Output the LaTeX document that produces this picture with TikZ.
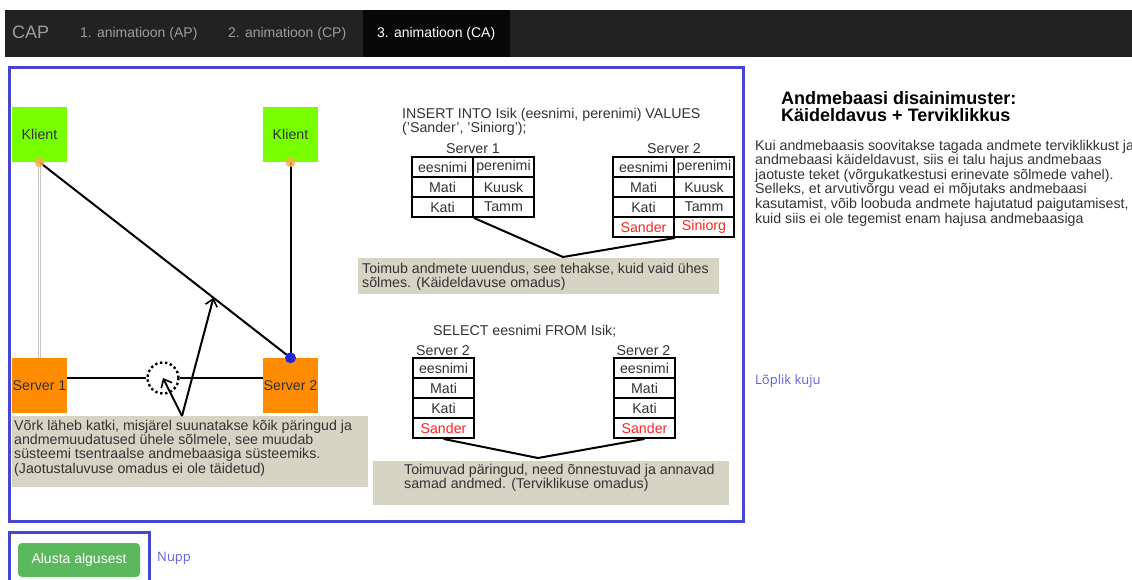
\documentclass[tikz,border=0pt]{standalone}
\usepackage{fontspec}
\usepackage{graphicx}
\setmainfont{Liberation Sans}
\newfontfamily\linkfont{Open Sans}
\usetikzlibrary{arrows.meta,calc}

\definecolor{navbg}{HTML}{222222}
\definecolor{navact}{HTML}{080808}
\definecolor{navtxt}{HTML}{9D9D9D}
\definecolor{frameblue}{HTML}{4646D2}
\definecolor{clientgreen}{HTML}{77FF00}
\definecolor{serverorange}{HTML}{FF8C00}
\definecolor{dotorange}{HTML}{F7B24A}
\definecolor{dotblue}{HTML}{2525D8}
\definecolor{notebg}{HTML}{D6D5C4}
\definecolor{ink}{HTML}{333333}
\definecolor{rowred}{HTML}{FF2424}
\definecolor{linkblue}{HTML}{5F5FE6}
\definecolor{btngreen}{HTML}{5CB85C}

\tikzset{
  f14/.style={font=\fontsize{14.2}{14.4}\selectfont},
  machine/.style={f14, text=ink, minimum width=55, minimum height=55, inner sep=0},
  client/.style={machine, fill=clientgreen},
  server/.style={machine, fill=serverorange},
  wire/.style={line width=2, black},
  arr/.style={wire, -{Straight Barb[length=7,width=12,line width=1.6]}},
  cell/.style={f14, draw=black, line width=1.9, minimum height=20, inner sep=0, text=ink},
  newrow/.style={text=rowred},
  note/.style={fill=notebg, inner sep=0, anchor=north west},
  % multi-line texts are placed by the baseline of their last line
  txt/.style={f14, inner sep=0, anchor=base west, text=ink, align=left},
  ttl/.style={f14, inner sep=0, anchor=base, text=ink},
  navitem/.style={font=\fontsize{14}{16}\selectfont, inner sep=0, anchor=base west, text=navtxt},
  lnk/.style={font=\linkfont\fontsize{13}{15}\selectfont, inner sep=0, anchor=base west, text=linkblue},
}

\begin{document}
\begin{tikzpicture}[x=1pt,y=-1pt]
\useasboundingbox (0,0) rectangle (1132,580);
\fill[white] (0,0) rectangle (1132,580);

% navigation bar
\fill[navbg] (5,10) rectangle (1132,57);
\fill[navact] (363,10) rectangle (510,57);
\node[navitem, font=\fontsize{18}{20}\selectfont] (brand) at (12,39) {CAP};
\node[navitem] (tab1) at (80,38) {1. animatioon (AP)};
\node[navitem] (tab2) at (228,38) {2. animatioon (CP)};
\node[navitem, text=white] (tab3) at (377,38) {3. animatioon (CA)};

% animation frame
\draw[frameblue, line width=3] (9.5,68) rectangle (743.5,521.5);

% clients and servers
\node[client] (klient1) at (39.5,134.5) {Klient};
\node[client] (klient2) at (290.5,134.5) {Klient};
\node[server] (server1) at (39.5,385.5) {Server 1};
\node[server] (server2) at (290.5,385.5) {Server 2};

% broken network link
\node[circle, draw, line width=2.4, dash pattern=on 2.4 off 2.6, minimum size=31, inner sep=0] (gap) at (163,378) {};
\draw[wire] (server1.east |- gap.center) -- (gap.west);
\draw[wire] (gap.east) -- (server2.west |- gap.center);

% client connections
\draw[gray!45, line width=0.8, double=white, double distance=1.6] (klient1.south) -- (server1.north);
\draw[wire] (klient2.south) -- (server2.north);
\draw[wire] (klient1.south) -- (server2.north);
\fill[dotorange, opacity=0.85] (klient1.south) circle (5);
\fill[dotorange, opacity=0.85] (klient2.south) circle (5);
\fill[dotblue] (server2.north) circle (5.5);

% explanation of the partition
\node[note, minimum width=356, minimum height=71] (netnote) at (12,416) {};
\node[txt] (netnotetxt) at (14,473.2) {Võrk läheb katki, misjärel suunatakse kõik päringud ja\\andmemuudatused ühele sõlmele, see muudab\\süsteemi tsentraalse andmebaasiga süsteemiks.\\(Jaotustaluvuse omadus ei ole täidetud)};
\coordinate (netapex) at ($(netnote.north west)+(170,0)$);
\draw[arr] (netapex) -- (gap.center);
\draw[arr] (netapex) -- ($(klient1.south)!0.693!(server2.north)$);

% insert statement
\node[txt] (insert) at (402,132.6) {INSERT INTO Isik (eesnimi, perenimi) VALUES\\('Sander', 'Siniorg');};
\node[ttl] (t1ttl) at (473,154) {Server 1};
\node[ttl] (t2ttl) at (674,154) {Server 2};

% table on server 1
\node[cell, minimum width=61] (t1-1-1) at (442.5,167) {eesnimi};
\node[cell, minimum width=61] (t1-1-2) at (503.5,167) {perenimi};
\node[cell, minimum width=61] (t1-2-1) at (442.5,187) {Mati};
\node[cell, minimum width=61] (t1-2-2) at (503.5,187) {Kuusk};
\node[cell, minimum width=61] (t1-3-1) at (442.5,207) {Kati};
\node[cell, minimum width=61] (t1-3-2) at (503.5,207) {Tamm};

% table on server 2
\node[cell, minimum width=61] (t2-1-1) at (643.5,167) {eesnimi};
\node[cell, minimum width=60] (t2-1-2) at (704,167) {perenimi};
\node[cell, minimum width=61] (t2-2-1) at (643.5,187) {Mati};
\node[cell, minimum width=60] (t2-2-2) at (704,187) {Kuusk};
\node[cell, minimum width=61] (t2-3-1) at (643.5,207) {Kati};
\node[cell, minimum width=60] (t2-3-2) at (704,207) {Tamm};
\node[cell, newrow, minimum width=61] (t2-4-1) at (643.5,227) {Sander};
\node[cell, newrow, minimum width=60] (t2-4-2) at (704,227) {Siniorg};

\node[note, minimum width=361, minimum height=36] (updnote) at (358,258) {};
\node[txt] (updnotetxt) at (362,287.4) {Toimub andmete uuendus, see tehakse, kuid vaid ühes\\sõlmes. (Käideldavuse omadus)};
\coordinate (updapex) at ($(updnote.north west)+(205,-1)$);
\draw[wire] (t1-3-1.south east) -- (updapex) -- (t2-4-1.south east);

% select statement
\node[txt] (select) at (433,335) {SELECT eesnimi FROM Isik;};
\node[ttl] (tattl) at (443,355) {Server 2};
\node[ttl] (tbttl) at (643.5,355) {Server 2};

\node[cell, minimum width=61] (ta-1) at (443.5,368) {eesnimi};
\node[cell, minimum width=61] (ta-2) at (443.5,388) {Mati};
\node[cell, minimum width=61] (ta-3) at (443.5,408) {Kati};
\node[cell, newrow, minimum width=61] (ta-4) at (443.5,428) {Sander};
\node[cell, minimum width=61] (tb-1) at (644.5,368) {eesnimi};
\node[cell, minimum width=61] (tb-2) at (644.5,388) {Mati};
\node[cell, minimum width=61] (tb-3) at (644.5,408) {Kati};
\node[cell, newrow, minimum width=61] (tb-4) at (644.5,428) {Sander};

\node[note, minimum width=356, minimum height=44] (selnote) at (373,461) {};
\node[txt] (selnotetxt) at (404,488.4) {Toimuvad päringud, need õnnestuvad ja annavad\\samad andmed. (Terviklikuse omadus)};
\coordinate (selapex) at ($(selnote.north west)+(165,-3)$);
\draw[wire] (ta-4.south) -- (selapex) -- (tb-4.south);

% description column
\node[txt, font=\bfseries\fontsize{18}{17}\selectfont, text=black] (heading) at (781,122) {Andmebaasi disainimuster:\\Käideldavus + Terviklikkus};
\node[txt, font=\fontsize{14.2}{14.6}\selectfont] (descr) at (755,223) {Kui andmebaasis soovitakse tagada andmete terviklikkust ja\\andmebaasi käideldavust, siis ei talu hajus andmebaas\\jaotuste teket (võrgukatkestusi erinevate sõlmede vahel).\\Selleks, et arvutivõrgu vead ei mõjutaks andmebaasi\\kasutamist, võib loobuda andmete hajutatud paigutamisest,\\kuid siis ei ole tegemist enam hajusa andmebaasiga};
\node[lnk] (final) at (755,384) {Lõplik kuju};

% restart button
\draw[frameblue, line width=3] (9.5,600) -- (9.5,532.5) -- (149.5,532.5) -- (149.5,600);
\node[fill=btngreen, rounded corners=4, minimum width=122, minimum height=34, inner sep=0, text=white, font=\fontsize{14}{16}\selectfont] (restart) at (79,560) {Alusta algusest};
\node[lnk] (nupp) at (157,561) {Nupp};
\end{tikzpicture}
\end{document}
